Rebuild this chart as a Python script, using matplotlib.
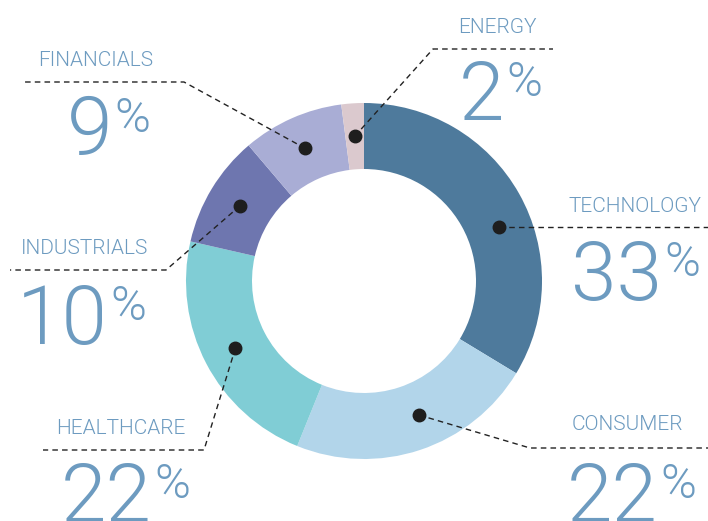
import matplotlib
matplotlib.use('Agg')
import matplotlib.pyplot as plt
import numpy as np

# ─────────────────────────────────────────────
# Data
# ─────────────────────────────────────────────
sectors = ["TECHNOLOGY", "CONSUMER", "HEALTHCARE", "INDUSTRIALS", "FINANCIALS", "ENERGY"]
weights = [33, 22, 22, 10, 9, 2]
colors = ["#4E7A9C", "#B2D5EA", "#80CDD5", "#6E76AF", "#A9ADD5", "#DBC9CE"]

# ─────────────────────────────────────────────
# Layout (pixel space, y down)
# ─────────────────────────────────────────────
CENTER = (364, 281)
R_OUT = 178
RING = 66
R_DOT = R_OUT - RING / 2
TXT = "#6D9BC0"
FONT = "Roboto"

# label center/baseline, leader corner, leader end x, number split x / baseline
layout = {
    "TECHNOLOGY":  dict(lab=(635, 212), corner=None,       end=708, split=662, base=300, nudge=7.7),
    "CONSUMER":    dict(lab=(627, 430), corner=(530, 448), end=708, split=658, base=522, nudge=-4),
    "HEALTHCARE":  dict(lab=(121, 434), corner=(204, 450), end=43,  split=152, base=522, nudge=0),
    "INDUSTRIALS": dict(lab=(85, 254),  corner=(166, 270), end=10,  split=108, base=344, nudge=0),
    "FINANCIALS":  dict(lab=(96, 66),   corner=(184, 82),  end=23,  split=112, base=155, nudge=0),
    "ENERGY":      dict(lab=(497, 33),  corner=(433, 49),  end=553, split=504, base=120, nudge=0),
}

fig = plt.figure(figsize=(7.08, 5.21), dpi=100)
ax = fig.add_axes([0, 0, 1, 1])

wedges, _ = ax.pie(weights, colors=colors, startangle=-90, counterclock=True,
                   radius=R_OUT, center=CENTER,
                   wedgeprops=dict(width=RING, linewidth=0))

ax.set_xlim(0, 708)
ax.set_ylim(521, 0)
ax.set_aspect('equal')
ax.axis('off')

for w, name, val in zip(wedges, sectors, weights):
    L = layout[name]
    ang = np.deg2rad((w.theta1 + w.theta2) / 2 + L["nudge"])
    dx = CENTER[0] + R_DOT * np.cos(ang)
    dy = CENTER[1] + R_DOT * np.sin(ang)

    # leader line
    if L["corner"] is None:
        xs, ys = [dx, L["end"]], [dy, dy]
    else:
        cx, cy = L["corner"]
        xs, ys = [dx, cx, L["end"]], [dy, cy, cy]
    ax.plot(xs, ys, color="#222222", lw=1.0, linestyle=(0, (4, 3)), zorder=3)
    ax.plot(dx, dy, 'o', color="#1E1E1E", markersize=9, zorder=4)

    # sector label
    lx, ly = L["lab"]
    ax.text(lx, ly, name, ha='center', va='baseline', color=TXT,
            fontsize=15, family=FONT, fontweight=300)

    # big number + small percent sign
    ax.text(L["split"], L["base"], str(val), ha='right', va='baseline',
            color=TXT, fontsize=59, family=FONT, fontweight=300)
    ax.text(L["split"] + 2, L["base"] - 60, "%", ha='left', va='top',
            color=TXT, fontsize=35, family=FONT, fontweight=300)

fig.savefig("out.png", dpi=100)
plt.close(fig)
